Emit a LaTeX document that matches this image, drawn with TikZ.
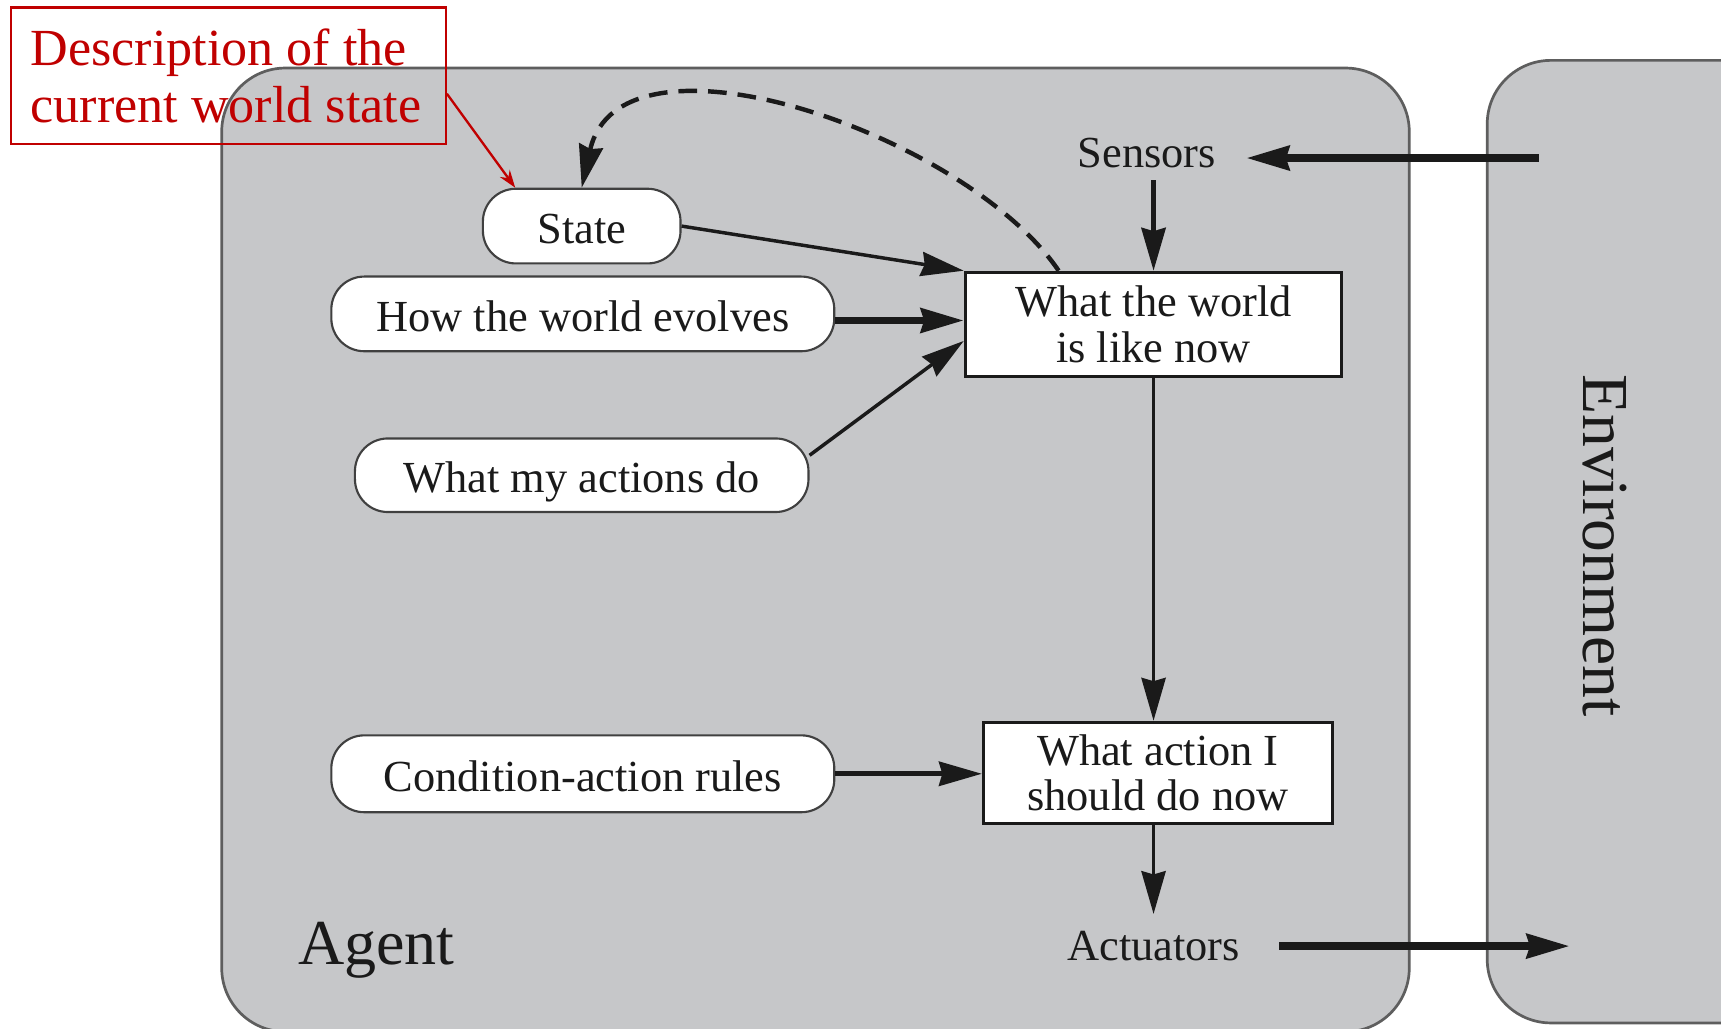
\documentclass[tikz,border=0pt]{standalone}
\usepackage{fontspec}
\setmainfont{Liberation Serif}
\usetikzlibrary{arrows.meta,calc}

\definecolor{panel}{HTML}{C6C7C9}
\definecolor{panelline}{HTML}{5E5E5E}
\definecolor{note}{HTML}{C00000}
\definecolor{ink}{HTML}{1A1A1A}

\begin{document}
\begin{tikzpicture}[x=0.01cm,y=-0.01cm,
  every node/.style={font=\fontsize{11.5}{11.8}\selectfont, text=ink},
  pill/.style={draw=black!75, line width=0.55pt, fill=white,
    rounded corners=0.3cm, inner sep=0pt, text height=9.1pt, text depth=0pt},
  stepbox/.style={draw=ink, line width=0.75pt, fill=white, align=center, inner sep=0pt},
  tip/.style={-{Stealth[length=0.39cm,width=0.22cm,inset=0.03cm]}},
  flow/.style={tip, draw=ink},
  heavy/.style={flow, line width=1.9pt},
  medium/.style={flow, line width=1.2pt},
  light/.style={flow, line width=0.9pt},
  feedback/.style={tip, draw=ink, line width=1.15pt, dash pattern=on 0.17cm off 0.1cm},
  panelbox/.style={draw=panelline, fill=panel, line width=0.7pt, rounded corners=0.58cm}
]
\useasboundingbox (0,0) rectangle (1568,937);

% agent and environment panels
\begin{scope}
  \clip (0,0) rectangle (1568,937);
  \draw[panelbox] (202,62) rectangle (1284,940);
  \draw[panelbox] (1355,55) rectangle (1700,932);
\end{scope}

% panel labels
\node[font=\fontsize{16.6}{18}\selectfont] (agentlbl) at (343,866) {Agent};
\node[font=\fontsize{17}{18}\selectfont, rotate=-90] (envlbl) at (1462,497) {Environment};

% internal model
\node[pill, minimum width=1.80cm, minimum height=0.68cm] (state)   at (530,206) {State};
\node[pill, minimum width=4.58cm, minimum height=0.68cm] (evolves) at (531,286) {How the world evolves};
\node[pill, minimum width=4.13cm, minimum height=0.67cm] (actions) at (530,433) {What my actions do};
\node[pill, minimum width=4.58cm, minimum height=0.70cm] (rules)   at (531,705) {Condition-action rules};

\node[stepbox, minimum width=3.43cm, minimum height=0.95cm] (world)  at (1051,295.5) {What the world\\is like now};
\node[stepbox, minimum width=3.18cm, minimum height=0.92cm] (choice) at (1055,704) {What action I\\should do now};

\node[inner xsep=0.27cm, inner ysep=0.11cm] (sensors)   at (1045,139) {Sensors};
\node[inner xsep=0.35cm, inner ysep=0.15cm] (actuators) at (1051,862) {Actuators};

% free ends in the environment
\coordinate (envS) at (1402,144);
\coordinate (envA) at (1430,862);
\coordinate (wtop) at ($(world.north west)!0.25!(world.north east)$);

% connectors
\draw[heavy]  (envS) -- (envS -| sensors.east);
\draw[medium] (sensors.south -| world.north) -- (world.north);
\draw[light]  (state.east) -- (world.north west);
\draw[heavy]  ([yshift=-0.06cm]evolves.east) -- ([yshift=-0.06cm]evolves.east -| world.west);
\draw[light]  (actions.5) -- (world.185);
\draw[feedback] (wtop) .. controls (880,122) and (565,14) .. (state.north);
\draw[light]  (world.south) -- (world.south |- choice.north);
\draw[medium] (rules.east) -- (rules.east -| choice.west);
\draw[light]  (actuators.north |- choice.south) -- (actuators.north);
\draw[heavy]  (actuators.east) -- (envA);

% annotation
\node[draw=note, line width=0.6pt, text=note, align=flush left,
      font=\fontsize{13.5}{14.8}\selectfont,
      text width=3.78cm, inner xsep=0.09cm, inner ysep=0pt,
      minimum height=1.24cm] (desc) at (208,69)
  {\hspace*{0.09cm}Description of the\\\hspace*{0.09cm}current world state};
\draw[note, line width=0.6pt, -{Stealth[length=0.16cm,width=0.11cm]}]
  ($(desc.north east)!0.63!(desc.south east)$) -- (state.150);
\end{tikzpicture}
\end{document}
